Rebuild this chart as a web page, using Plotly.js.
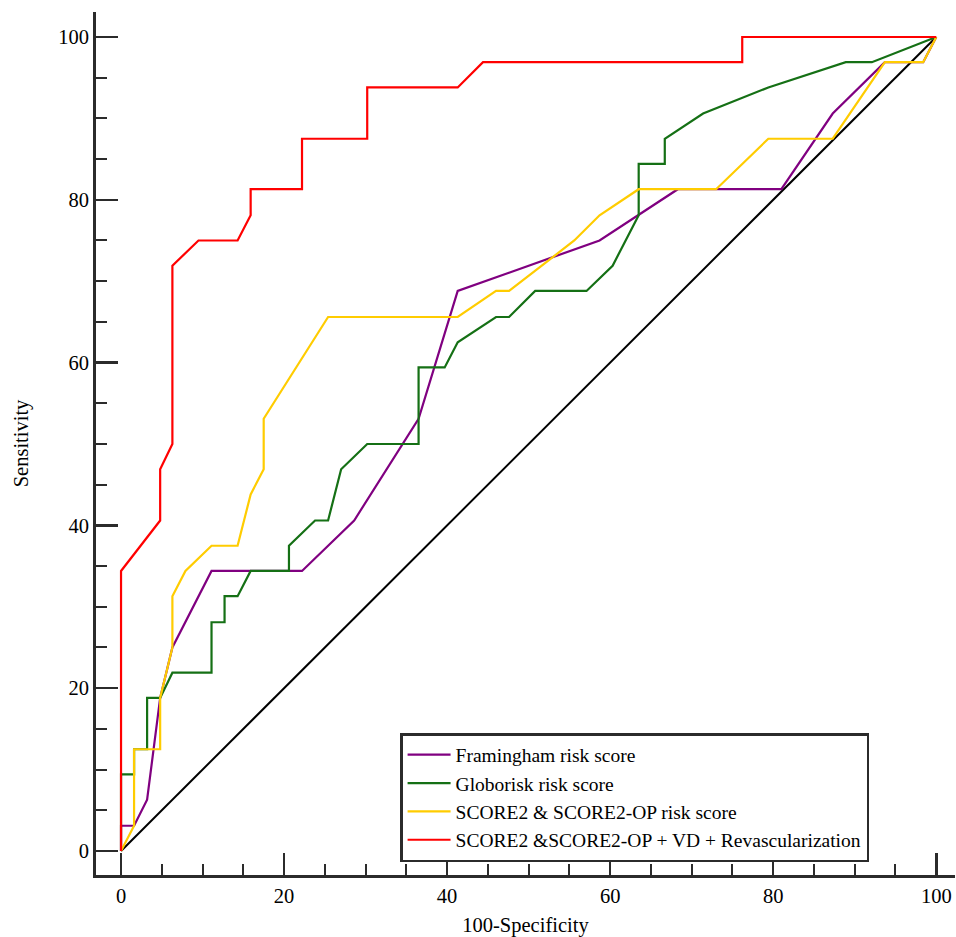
<!DOCTYPE html>
<html>
<head>
<meta charset="utf-8">
<script src="https://cdn.plot.ly/plotly-3.0.1.min.js"></script>
<style>html,body{margin:0;padding:0;background:#fff;}#chart{width:956px;height:937px;}</style>
</head>
<body>
<div id="chart"></div>
<script>
// Framingham risk score
const framX = [0, 0, 1.6, 3.2, 4.8, 6.3, 11.1, 22.2, 28.6, 36.5, 41.3, 58.7, 68.3, 81.0, 87.3, 93.7, 98.4, 100];
const framY = [0, 3.1, 3.1, 6.3, 18.8, 25.0, 34.4, 34.4, 40.6, 53.1, 68.8, 75.0, 81.3, 81.3, 90.6, 96.9, 96.9, 100];
// Globorisk risk score
const globX = [0, 0, 1.6, 1.6, 3.2, 3.2, 4.8, 6.3, 11.1, 11.1, 12.7, 12.7, 14.3, 15.9, 20.6, 20.6, 23.8, 25.4, 27.0, 30.2, 36.5, 36.5, 39.7, 41.3, 46.0, 47.6, 50.8, 57.1, 60.3, 63.5, 63.5, 66.7, 66.7, 71.4, 79.4, 88.9, 92.1, 100];
const globY = [0, 9.4, 9.4, 12.5, 12.5, 18.8, 18.8, 21.9, 21.9, 28.1, 28.1, 31.3, 31.3, 34.4, 34.4, 37.5, 40.6, 40.6, 46.9, 50.0, 50.0, 59.4, 59.4, 62.5, 65.6, 65.6, 68.8, 68.8, 71.9, 78.1, 84.4, 84.4, 87.5, 90.6, 93.8, 96.9, 96.9, 100];
// SCORE2 & SCORE2-OP risk score
const scoreX = [0, 1.6, 1.6, 4.8, 4.8, 6.3, 6.3, 7.9, 11.1, 14.3, 15.9, 17.5, 17.5, 25.4, 41.3, 46.0, 47.6, 55.6, 58.7, 63.5, 73.0, 79.4, 87.3, 93.7, 98.4, 100];
const scoreY = [0, 3.1, 12.5, 12.5, 18.8, 25.0, 31.3, 34.4, 37.5, 37.5, 43.8, 46.9, 53.1, 65.6, 65.6, 68.8, 68.8, 75.0, 78.1, 81.3, 81.3, 87.5, 87.5, 96.9, 96.9, 100];
// SCORE2 &SCORE2-OP + VD + Revascularization
const revX = [0, 0, 4.8, 4.8, 6.3, 6.3, 9.5, 14.3, 15.9, 15.9, 22.2, 22.2, 30.2, 30.2, 41.3, 44.4, 76.2, 76.2, 100];
const revY = [0, 34.4, 40.6, 46.9, 50.0, 71.9, 75.0, 75.0, 78.1, 81.3, 81.3, 87.5, 87.5, 93.8, 93.8, 96.9, 96.9, 100, 100];
// reference diagonal
const diagX = [0, 100];
const diagY = [0, 100];

const names = ["Framingham risk score", "Globorisk risk score", "SCORE2 & SCORE2-OP risk score", "SCORE2 &SCORE2-OP + VD + Revascularization"];
const tickVals = [0, 20, 40, 60, 80, 100];

const font = "Liberation Serif, Times New Roman, serif";
const axisColor = "#2b2b2b";

const traces = [
  {x: diagX, y: diagY, mode: "lines", line: {color: "#000000", width: 2}, showlegend: false, hoverinfo: "skip"},
  {x: framX, y: framY, name: names[0], mode: "lines", line: {color: "#800080", width: 2.2}},
  {x: globX, y: globY, name: names[1], mode: "lines", line: {color: "#157015", width: 2.2}},
  {x: scoreX, y: scoreY, name: names[2], mode: "lines", line: {color: "#FFCC00", width: 2.2}},
  {x: revX, y: revY, name: names[3], mode: "lines", line: {color: "#FF0000", width: 2.2}}
];

const axisCommon = {
  showline: true, linewidth: 3, linecolor: axisColor, mirror: false,
  showgrid: false, zeroline: false,
  ticks: "inside", ticklen: 22, tickwidth: 2.5, tickcolor: axisColor,
  tickmode: "array", tickvals: tickVals, ticktext: tickVals.map(String),
  tickfont: {family: font, size: 20.5, color: "#000"},
  minor: {ticks: "inside", dtick: 5, tick0: 0, ticklen: 11, tickwidth: 2, tickcolor: axisColor, showgrid: false}
};

const layout = {
  width: 956, height: 937,
  margin: {l: 96, r: 1, t: 12, b: 62},
  paper_bgcolor: "#fff", plot_bgcolor: "#fff",
  font: {family: font, color: "#000"},
  showlegend: true,
  xaxis: Object.assign({}, axisCommon, {
    range: [-3.07, 102.3],
    title: {text: "100-Specificity", font: {family: font, size: 20.5, color: "#000"}, standoff: 13}
  }),
  yaxis: Object.assign({}, axisCommon, {
    range: [-2.95, 103.07],
    title: {text: "Sensitivity", font: {family: font, size: 20.5, color: "#000"}, standoff: 24}
  }),
  legend: {
    x: 0.354, y: 0.1645, xanchor: "left", yanchor: "top",
    bgcolor: "#fff", bordercolor: axisColor, borderwidth: 2.5,
    font: {family: font, size: 19.5, color: "#000"},
    itemwidth: 43,
    tracegroupgap: 0
  }
};

Plotly.newPlot("chart", traces, layout, {displayModeBar: false, staticPlot: true});
</script>
</body>
</html>
